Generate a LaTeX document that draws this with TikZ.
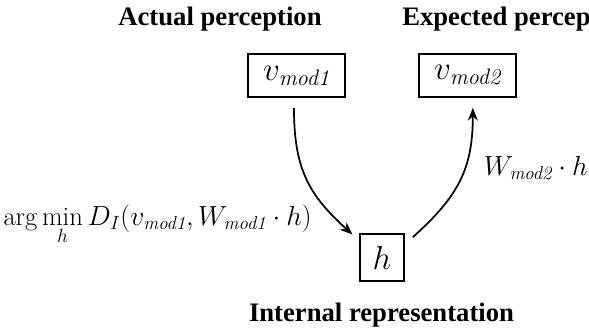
\documentclass[tikz,border=0pt]{standalone}
\usepackage{amsmath}
\usepackage{fontspec}
\newfontfamily\timesfont{Liberation Serif}
\usetikzlibrary{arrows.meta}
\begin{document}
\begin{tikzpicture}[x=0.75pt,y=-0.75pt,
  box/.style={draw,line width=1.3pt,inner sep=0pt,font=\fontsize{24}{28}\selectfont},
  lbl/.style={inner sep=0pt,font=\fontsize{20}{24}\selectfont\timesfont\bfseries},
  mlbl/.style={inner sep=0pt,font=\fontsize{20}{24}\selectfont},
  conn/.style={line width=1.3pt,-{Stealth[length=9.5pt,width=7.5pt]}}]
\useasboundingbox (0,0) rectangle (589,333);
\clip (0,0) rectangle (589,333);
% boxes
\node[box,minimum width=73pt,minimum height=32.25pt] (v1) at (296.5,75.5) {$v_{\textit{mod1}}$};
\node[box,minimum width=73pt,minimum height=32.25pt] (v2) at (467.5,75.5) {$v_{\textit{mod2}}$};
\node[box,minimum width=33pt,minimum height=35.25pt] (h) at (382,257.5) {$h$};
% titles
\node[lbl,anchor=base] (t1) at (220,25) {Actual perception};
\node[lbl,anchor=base west] (t2) at (402,25) {Expected perception};
\node[lbl,anchor=base] (t3) at (381.5,321) {Internal representation};
% connector end points
\coordinate (a1s) at ([xshift=-1.9pt,yshift=-7.5pt]v1.south);
\coordinate (a1e) at ([xshift=-5pt,yshift=-1pt]h.north west);
\coordinate (a2s) at ([xshift=6pt,yshift=-3pt]h.north east);
\coordinate (a2e) at ([xshift=4pt,yshift=-7.5pt]v2.south);
\draw[conn] (a1s) to[out=-90,in=138,looseness=1.1] (a1e);
\draw[conn] (a2s) to[out=42,in=-90,looseness=1.1] (a2e);
% labels
\node[mlbl,anchor=base east] (l1) at (312,225) {$\arg\min\limits_{h} D_I(v_{\textit{mod1}}, W_{\textit{mod1}}\cdot h)$};
\node[mlbl,anchor=base east] (l2) at (588,175) {$W_{\textit{mod2}}\cdot h$};
\end{tikzpicture}
\end{document}
